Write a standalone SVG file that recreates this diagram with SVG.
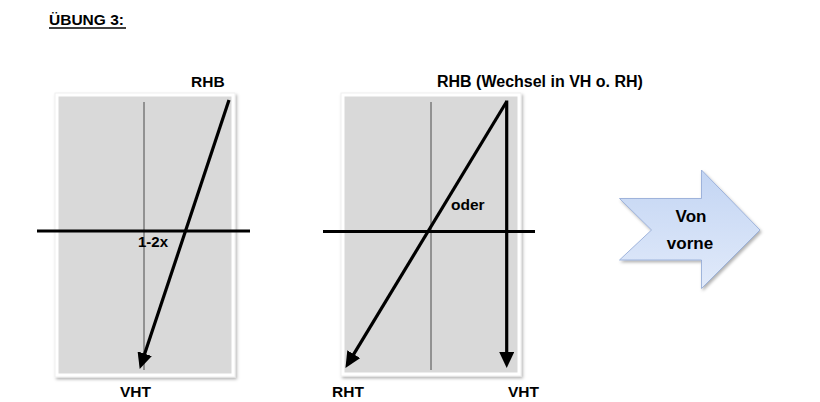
<svg xmlns="http://www.w3.org/2000/svg" width="820" height="402" viewBox="0 0 820 402">
  <style>
    text { font-family: "Liberation Sans", Arial, sans-serif; font-weight: bold; fill: #000; }
    .lbl { font-size: 15.5px; }
    .frame { fill: #ffffff; stroke: #ececec; stroke-width: 0.8; }
    .panel { fill: #d9d9d9; }
    .thin { stroke: #4a4a4a; stroke-width: 1; fill: none; }
    .thick { stroke: #000; stroke-width: 3; fill: none; }
    .arr { stroke: #000; stroke-width: 3.2; fill: none; marker-end: url(#head); }
  </style>
  <defs>
    <marker id="head" markerUnits="userSpaceOnUse" markerWidth="17" markerHeight="15" refX="2" refY="7.5" orient="auto">
      <path d="M0,0 L16,7.5 L0,15 Z" fill="#000"/>
    </marker>
    <filter id="shadow" x="-10%" y="-10%" width="120%" height="120%">
      <feDropShadow dx="1.5" dy="2" stdDeviation="1.8" flood-color="#000" flood-opacity="0.3"/>
    </filter>
    <linearGradient id="blue" x1="0" y1="0" x2="0" y2="1">
      <stop offset="0" stop-color="#c3d5f3"/>
      <stop offset="1" stop-color="#e1eafa"/>
    </linearGradient>
  </defs>

  <g id="title">
    <text class="lbl" x="49" y="25">ÜBUNG 3:</text>
    <line x1="49" y1="28" x2="126" y2="28" stroke="#000" stroke-width="1.3"/>
  </g>

  <g id="panel-left">
    <rect class="frame" x="55" y="93" width="180" height="284" filter="url(#shadow)"/>
    <rect class="panel" x="58.5" y="96.5" width="173" height="277"/>
    <line class="thin" x1="144" y1="102" x2="144" y2="370"/>
  </g>

  <g id="panel-right">
    <rect class="frame" x="341" y="93" width="180" height="283" filter="url(#shadow)"/>
    <rect class="panel" x="344.5" y="96.5" width="173" height="276"/>
    <line class="thin" x1="431" y1="102" x2="431" y2="370"/>
  </g>

  <g id="connectors">
    <line class="thick" x1="37" y1="231" x2="250" y2="231"/>
    <line class="thick" x1="323" y1="231.5" x2="535" y2="231.5"/>
    <line class="arr" x1="229" y1="100" x2="144.1" y2="355.6"/>
    <line class="arr" x1="506.7" y1="101.5" x2="352.7" y2="355.9"/>
    <line class="arr" x1="506.7" y1="100.5" x2="506.7" y2="354"/>
  </g>

  <g id="labels-left">
    <text class="lbl" x="191" y="87">RHB</text>
    <text class="lbl" x="138" y="247" style="font-size:15px">1-2x</text>
    <text class="lbl" x="120" y="397">VHT</text>
  </g>

  <g id="labels-right">
    <text class="lbl" x="437" y="87" style="font-size:16px">RHB (Wechsel in VH o. RH)</text>
    <text class="lbl" x="451" y="210">oder</text>
    <text class="lbl" x="332" y="397">RHT</text>
    <text class="lbl" x="508" y="397">VHT</text>
  </g>

  <g id="von-vorne">
    <path d="M619.5,198.5 L701.5,198.5 L701.5,170 L760,230 L701.5,288.5 L701.5,260 L619.5,260 L651.5,230 Z" fill="url(#blue)" stroke="#8ea6d4" stroke-width="0.8" filter="url(#shadow)"/>
    <text x="691" y="222" text-anchor="middle" style="font-size:17px">Von</text>
    <text x="690" y="248.5" text-anchor="middle" style="font-size:17px">vorne</text>
  </g>
</svg>
